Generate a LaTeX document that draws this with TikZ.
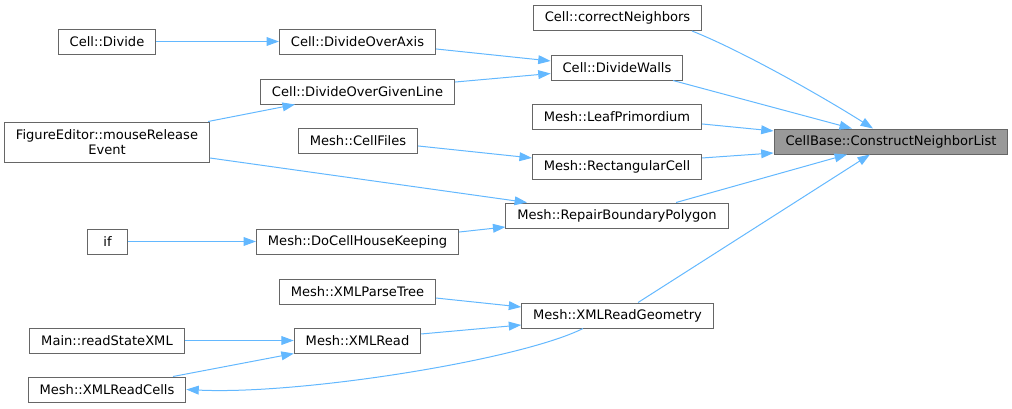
\documentclass[tikz,border=0pt]{standalone}
\usepackage{fontspec}
\setmainfont{DejaVu Sans}
\usetikzlibrary{arrows.meta}
\definecolor{edgeblue}{HTML}{63B8FF}
\definecolor{boxline}{HTML}{666666}
\definecolor{rootfill}{HTML}{999999}
\tikzstyle{fnbox} = [draw=boxline, fill=white, line width=0.75pt,
    rectangle, inner xsep=8.6pt, inner ysep=2pt, minimum height=18.75pt,
    font=\fontsize{9.8}{11}\selectfont]
\tikzstyle{rootbox} = [fnbox, fill=rootfill]
\tikzstyle{callarrow} = [draw=edgeblue, line width=0.75pt,
    -{Triangle[length=9.3pt,width=6.6pt]}]

\begin{document}
\begin{tikzpicture}[x=0.75pt, y=-0.75pt]
                \useasboundingbox (0,0) rectangle (1012,408);
                % callers, column by column
                \node [fnbox] (divide) at (107,41.5) {Cell::Divide};
                \node [fnbox, minimum height=30pt, align=center] (figed) at (107,142) {FigureEditor::mouseRelease\\Event};
                \node [fnbox, minimum width=29.3pt] (ifnode) at (107.5,241.5) {if};
                \node [fnbox] (rsx) at (107,340.5) {Main::readStateXML};
                \node [fnbox] (xrc) at (107,389.5) {Mesh::XMLReadCells};
                \node [fnbox] (dovaxis) at (357.5,41.5) {Cell::DivideOverAxis};
                \node [fnbox] (dogl) at (357.5,91.5) {Cell::DivideOverGivenLine};
                \node [fnbox] (cellfiles) at (358,140.5) {Mesh::CellFiles};
                \node [fnbox] (dchk) at (357.5,241.5) {Mesh::DoCellHouseKeeping};
                \node [fnbox] (xpt) at (357.5,291.5) {Mesh::XMLParseTree};
                \node [fnbox] (xread) at (357.5,340.5) {Mesh::XMLRead};
                \node [fnbox] (cn) at (617.5,18) {Cell::correctNeighbors};
                \node [fnbox] (dwalls) at (617,67.5) {Cell::DivideWalls};
                \node [fnbox] (leaf) at (617,116.5) {Mesh::LeafPrimordium};
                \node [fnbox] (rect) at (617,166.5) {Mesh::RectangularCell};
                \node [fnbox] (rbp) at (617,215.5) {Mesh::RepairBoundaryPolygon};
                \node [fnbox] (xrg) at (617.5,315.5) {Mesh::XMLReadGeometry};
                \node [rootbox] (cnl) at (891,141.5) {CellBase::ConstructNeighborList};
                % calls
                \draw [callarrow] (divide.east) -- (dovaxis.west);
                \draw [callarrow] ([yshift=-5.6pt]dovaxis.east) -- ([yshift=4.9pt]dwalls.west);
                \draw [callarrow] ([yshift=7.1pt]dogl.east) -- ([yshift=-4.5pt]dwalls.west);
                \draw [callarrow] ([xshift=75.8pt]figed.north) -- ([xshift=-46.9pt]dogl.south);
                \draw [callarrow] ([yshift=-12pt]figed.east) -- ([xshift=-67.5pt]rbp.north);
                \draw [callarrow] ([yshift=-4.1pt]cellfiles.east) -- ([yshift=6.4pt]rect.west);
                \draw [callarrow] ([xshift=55.9pt]cn.south) .. controls (740,50) and (820,95) .. ([xshift=-13.5pt]cnl.north);
                \draw [callarrow] ([xshift=42pt]dwalls.south) -- ([xshift=-29.3pt]cnl.north);
                \draw [callarrow] ([yshift=-5.6pt]leaf.east) -- ([yshift=7.9pt]cnl.west);
                \draw [callarrow] ([yshift=6.4pt]rect.east) -- ([yshift=-8.6pt]cnl.west);
                \draw [callarrow] ([xshift=44.3pt]rbp.north) -- ([xshift=-33pt]cnl.south);
                \draw [callarrow] ([xshift=15.4pt]xrg.north) -- ([xshift=-15.8pt]cnl.south);
                \draw [callarrow] (ifnode.east) -- (dchk.west);
                \draw [callarrow] ([yshift=7.1pt]dchk.east) -- ([yshift=-8.6pt]rbp.west);
                \draw [callarrow] ([yshift=-4.9pt]xpt.east) -- ([yshift=6.4pt]xrg.west);
                \draw [callarrow] ([yshift=4.9pt]xread.east) -- ([yshift=-7.1pt]xrg.west);
                \draw [callarrow] (rsx.east) -- (xread.west);
                \draw [callarrow] ([xshift=49.5pt]xrc.north) -- (xread.south west);
                \draw [callarrow] ([xshift=-25.9pt]xrg.south) .. controls (520,360) and (300,395) .. (xrc.east);
            \end{tikzpicture}
\end{document}
